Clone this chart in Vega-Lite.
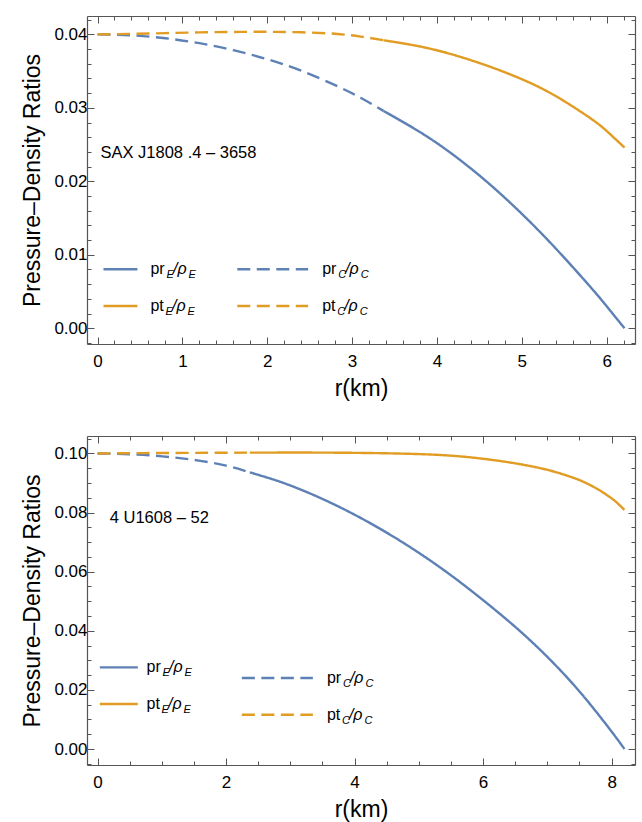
{
"$schema": "https://vega.github.io/schema/vega-lite/v6.json",
"padding": {"left": 21, "top": 15, "right": 7, "bottom": 5},
"spacing": 35,
"config": {"font": "Liberation Sans", "view": {"stroke": null},
 "axis": {"grid": false, "labelFontSize": 17, "labelColor": "#000", "titleFontSize": 23, "titleFontWeight": "normal", "titleColor": "#000", "domainColor": "#555", "tickColor": "#555", "domainWidth": 1.2, "tickWidth": 1, "labelFlush": false, "labelOverlap": false}},
"datasets": {
 "one": [{}],
 "sax": [
  {"r":0,"v":0.0400,"series":"pr","part":"C"},{"r":0.4,"v":0.03987,"series":"pr","part":"C"},{"r":0.8,"v":0.03947,"series":"pr","part":"C"},{"r":1.2,"v":0.03880,"series":"pr","part":"C"},{"r":1.6,"v":0.03785,"series":"pr","part":"C"},{"r":2.0,"v":0.03662,"series":"pr","part":"C"},{"r":2.4,"v":0.03505,"series":"pr","part":"C"},{"r":2.8,"v":0.03308,"series":"pr","part":"C"},{"r":3.1,"v":0.03138,"series":"pr","part":"C"},{"r":3.37,"v":0.02958,"series":"pr","part":"C"},
  {"r":3.37,"v":0.02958,"series":"pr","part":"E"},{"r":3.8,"v":0.02670,"series":"pr","part":"E"},{"r":4.2,"v":0.02354,"series":"pr","part":"E"},{"r":4.6,"v":0.01982,"series":"pr","part":"E"},{"r":5.0,"v":0.01558,"series":"pr","part":"E"},{"r":5.4,"v":0.01086,"series":"pr","part":"E"},{"r":5.8,"v":0.00574,"series":"pr","part":"E"},{"r":6.0,"v":0.00300,"series":"pr","part":"E"},{"r":6.21,"v":0.0,"series":"pr","part":"E"},
  {"r":0,"v":0.0400,"series":"pt","part":"C"},{"r":0.4,"v":0.04007,"series":"pt","part":"C"},{"r":0.8,"v":0.04017,"series":"pt","part":"C"},{"r":1.2,"v":0.04027,"series":"pt","part":"C"},{"r":1.6,"v":0.04033,"series":"pt","part":"C"},{"r":2.0,"v":0.04035,"series":"pt","part":"C"},{"r":2.4,"v":0.04028,"series":"pt","part":"C"},{"r":2.8,"v":0.04008,"series":"pt","part":"C"},{"r":3.1,"v":0.03970,"series":"pt","part":"C"},{"r":3.37,"v":0.03920,"series":"pt","part":"C"},
  {"r":3.37,"v":0.03920,"series":"pt","part":"E"},{"r":3.8,"v":0.03835,"series":"pt","part":"E"},{"r":4.2,"v":0.03720,"series":"pt","part":"E"},{"r":4.6,"v":0.03570,"series":"pt","part":"E"},{"r":5.0,"v":0.03390,"series":"pt","part":"E"},{"r":5.4,"v":0.03160,"series":"pt","part":"E"},{"r":5.8,"v":0.02865,"series":"pt","part":"E"},{"r":6.0,"v":0.02685,"series":"pt","part":"E"},{"r":6.21,"v":0.02460,"series":"pt","part":"E"}
 ],
 "u1608": [
  {"r":0,"v":0.1000,"series":"pr","part":"C"},{"r":0.4,"v":0.09982,"series":"pr","part":"C"},{"r":0.8,"v":0.09938,"series":"pr","part":"C"},{"r":1.2,"v":0.09860,"series":"pr","part":"C"},{"r":1.6,"v":0.09750,"series":"pr","part":"C"},{"r":2.0,"v":0.09590,"series":"pr","part":"C"},{"r":2.37,"v":0.09360,"series":"pr","part":"C"},
  {"r":2.37,"v":0.09360,"series":"pr","part":"E"},{"r":2.8,"v":0.09072,"series":"pr","part":"E"},{"r":3.2,"v":0.08744,"series":"pr","part":"E"},{"r":3.6,"v":0.08360,"series":"pr","part":"E"},{"r":4.0,"v":0.07928,"series":"pr","part":"E"},{"r":4.4,"v":0.07448,"series":"pr","part":"E"},{"r":4.8,"v":0.06920,"series":"pr","part":"E"},{"r":5.2,"v":0.06344,"series":"pr","part":"E"},{"r":5.6,"v":0.05716,"series":"pr","part":"E"},{"r":6.0,"v":0.05036,"series":"pr","part":"E"},{"r":6.4,"v":0.04320,"series":"pr","part":"E"},{"r":6.8,"v":0.03540,"series":"pr","part":"E"},{"r":7.2,"v":0.02670,"series":"pr","part":"E"},{"r":7.6,"v":0.01690,"series":"pr","part":"E"},{"r":8.0,"v":0.00590,"series":"pr","part":"E"},{"r":8.2,"v":0.0,"series":"pr","part":"E"},
  {"r":0,"v":0.1000,"series":"pt","part":"C"},{"r":0.6,"v":0.1001,"series":"pt","part":"C"},{"r":1.2,"v":0.10017,"series":"pt","part":"C"},{"r":1.8,"v":0.10023,"series":"pt","part":"C"},{"r":2.37,"v":0.10027,"series":"pt","part":"C"},
  {"r":2.37,"v":0.10027,"series":"pt","part":"E"},{"r":3.0,"v":0.10030,"series":"pt","part":"E"},{"r":3.5,"v":0.10028,"series":"pt","part":"E"},{"r":4.0,"v":0.10020,"series":"pt","part":"E"},{"r":4.5,"v":0.10005,"series":"pt","part":"E"},{"r":5.0,"v":0.09978,"series":"pt","part":"E"},{"r":5.5,"v":0.09925,"series":"pt","part":"E"},{"r":6.0,"v":0.09820,"series":"pt","part":"E"},{"r":6.5,"v":0.09665,"series":"pt","part":"E"},{"r":7.0,"v":0.09445,"series":"pt","part":"E"},{"r":7.4,"v":0.09180,"series":"pt","part":"E"},{"r":7.6,"v":0.09000,"series":"pt","part":"E"},{"r":7.8,"v":0.08770,"series":"pt","part":"E"},{"r":8.0,"v":0.08480,"series":"pt","part":"E"},{"r":8.1,"v":0.08300,"series":"pt","part":"E"},{"r":8.2,"v":0.08090,"series":"pt","part":"E"}
 ]
},
"vconcat": [
{
 "width": 548, "height": 328,
 "resolve": {"axis": {"x": "independent", "y": "independent"}},
 "layer": [
  {"data": {"name": "sax"}, "mark": {"type": "line", "strokeWidth": 2.4, "interpolate": "natural"},
   "encoding": {
    "x": {"field": "r", "type": "quantitative", "scale": {"domain": [-0.124, 6.334], "nice": false, "zero": false}, "axis": {"orient": "bottom", "values": [0,1,2,3,4,5,6], "tickSize": -7, "labelPadding": 16, "title": "r(km)", "titlePadding": 8}},
    "y": {"field": "v", "type": "quantitative", "scale": {"domain": [-0.00214, 0.0425], "nice": false, "zero": false}, "axis": {"orient": "left", "values": [0,0.01,0.02,0.03,0.04], "format": ".2f", "tickSize": -7, "labelPadding": 7, "title": "Pressure–Density Ratios", "titlePadding": 9}},
    "color": {"field": "series", "type": "nominal", "scale": {"domain": ["pr","pt"], "range": ["#5E81B5","#E19C24"]}, "legend": null},
    "strokeDash": {"field": "part", "type": "nominal", "scale": {"domain": ["E","C"], "range": [[1,0],[13,6.5]]}, "legend": null}
   }},
  {"data": {"name": "sax"}, "mark": {"type": "point", "opacity": 0},
   "encoding": {
    "x": {"field": "r", "type": "quantitative", "axis": {"orient": "top", "values": [0,1,2,3,4,5,6], "labels": false, "tickSize": -7, "title": null}},
    "y": {"field": "v", "type": "quantitative", "axis": {"orient": "right", "values": [0,0.01,0.02,0.03,0.04], "labels": false, "tickSize": -7, "title": null}}
   }},
  {"data": {"name": "sax"}, "mark": {"type": "point", "opacity": 0},
   "encoding": {
    "x": {"field": "r", "type": "quantitative", "axis": {"orient": "bottom", "values": [0.2,0.4,0.6,0.8,1.2,1.4,1.6,1.8,2.2,2.4,2.6,2.8,3.2,3.4,3.6,3.8,4.2,4.4,4.6,4.8,5.2,5.4,5.6,5.8,6.2], "labels": false, "domain": false, "tickSize": -4, "title": null}},
    "y": {"field": "v", "type": "quantitative", "axis": {"orient": "left", "values": [-0.002,0.002,0.004,0.006,0.008,0.012,0.014,0.016,0.018,0.022,0.024,0.026,0.028,0.032,0.034,0.036,0.038,0.042], "labels": false, "domain": false, "tickSize": -4, "title": null}}
   }},
  {"data": {"name": "sax"}, "mark": {"type": "point", "opacity": 0},
   "encoding": {
    "x": {"field": "r", "type": "quantitative", "axis": {"orient": "top", "values": [0.2,0.4,0.6,0.8,1.2,1.4,1.6,1.8,2.2,2.4,2.6,2.8,3.2,3.4,3.6,3.8,4.2,4.4,4.6,4.8,5.2,5.4,5.6,5.8,6.2], "labels": false, "domain": false, "tickSize": -4, "title": null}},
    "y": {"field": "v", "type": "quantitative", "axis": {"orient": "right", "values": [-0.002,0.002,0.004,0.006,0.008,0.012,0.014,0.016,0.018,0.022,0.024,0.026,0.028,0.032,0.034,0.036,0.038,0.042], "labels": false, "domain": false, "tickSize": -4, "title": null}}
   }},
  {"data": {"name": "one"}, "mark": {"type": "rule", "color": "#5E81B5", "strokeWidth": 2.4}, "encoding": {"x": {"datum": 0.07, "type": "quantitative", "axis": null}, "x2": {"datum": 0.47}, "y": {"datum": 0.00803, "type": "quantitative", "axis": null}}},
  {"data": {"name": "one"}, "mark": {"type": "rule", "color": "#E19C24", "strokeWidth": 2.4}, "encoding": {"x": {"datum": 0.07, "type": "quantitative", "axis": null}, "x2": {"datum": 0.47}, "y": {"datum": 0.00303, "type": "quantitative", "axis": null}}},
  {"data": {"name": "one"}, "mark": {"type": "rule", "color": "#5E81B5", "strokeWidth": 2.4, "strokeDash": [13,6.5]}, "encoding": {"x": {"datum": 1.647, "type": "quantitative", "axis": null}, "x2": {"datum": 2.482}, "y": {"datum": 0.00803, "type": "quantitative", "axis": null}}},
  {"data": {"name": "one"}, "mark": {"type": "rule", "color": "#E19C24", "strokeWidth": 2.4, "strokeDash": [13,6.5]}, "encoding": {"x": {"datum": 1.647, "type": "quantitative", "axis": null}, "x2": {"datum": 2.482}, "y": {"datum": 0.00303, "type": "quantitative", "axis": null}}},
  {"data": {"name": "one"}, "mark": {"type": "text", "text": "pr", "align": "left", "baseline": "alphabetic", "fontSize": 16, "dy": 5}, "encoding": {"x": {"datum": 0.624, "type": "quantitative", "axis": null}, "y": {"datum": 0.00803, "type": "quantitative", "axis": null}}},
  {"data": {"name": "one"}, "mark": {"type": "text", "text": "E", "align": "left", "baseline": "alphabetic", "fontSize": 11, "fontStyle": "italic", "dx": 16, "dy": 9}, "encoding": {"x": {"datum": 0.624, "type": "quantitative", "axis": null}, "y": {"datum": 0.00803, "type": "quantitative", "axis": null}}},
  {"data": {"name": "one"}, "mark": {"type": "text", "text": "/ρ", "align": "left", "baseline": "alphabetic", "fontSize": 16, "fontStyle": "italic", "dx": 22.5, "dy": 5}, "encoding": {"x": {"datum": 0.624, "type": "quantitative", "axis": null}, "y": {"datum": 0.00803, "type": "quantitative", "axis": null}}},
  {"data": {"name": "one"}, "mark": {"type": "text", "text": "E", "align": "left", "baseline": "alphabetic", "fontSize": 11, "fontStyle": "italic", "dx": 38, "dy": 9}, "encoding": {"x": {"datum": 0.624, "type": "quantitative", "axis": null}, "y": {"datum": 0.00803, "type": "quantitative", "axis": null}}},
  {"data": {"name": "one"}, "mark": {"type": "text", "text": "pt", "align": "left", "baseline": "alphabetic", "fontSize": 16, "dy": 5}, "encoding": {"x": {"datum": 0.624, "type": "quantitative", "axis": null}, "y": {"datum": 0.00303, "type": "quantitative", "axis": null}}},
  {"data": {"name": "one"}, "mark": {"type": "text", "text": "E", "align": "left", "baseline": "alphabetic", "fontSize": 11, "fontStyle": "italic", "dx": 15, "dy": 9}, "encoding": {"x": {"datum": 0.624, "type": "quantitative", "axis": null}, "y": {"datum": 0.00303, "type": "quantitative", "axis": null}}},
  {"data": {"name": "one"}, "mark": {"type": "text", "text": "/ρ", "align": "left", "baseline": "alphabetic", "fontSize": 16, "fontStyle": "italic", "dx": 21.5, "dy": 5}, "encoding": {"x": {"datum": 0.624, "type": "quantitative", "axis": null}, "y": {"datum": 0.00303, "type": "quantitative", "axis": null}}},
  {"data": {"name": "one"}, "mark": {"type": "text", "text": "E", "align": "left", "baseline": "alphabetic", "fontSize": 11, "fontStyle": "italic", "dx": 37, "dy": 9}, "encoding": {"x": {"datum": 0.624, "type": "quantitative", "axis": null}, "y": {"datum": 0.00303, "type": "quantitative", "axis": null}}},
  {"data": {"name": "one"}, "mark": {"type": "text", "text": "pr", "align": "left", "baseline": "alphabetic", "fontSize": 16, "dy": 5}, "encoding": {"x": {"datum": 2.647, "type": "quantitative", "axis": null}, "y": {"datum": 0.00803, "type": "quantitative", "axis": null}}},
  {"data": {"name": "one"}, "mark": {"type": "text", "text": "C", "align": "left", "baseline": "alphabetic", "fontSize": 11, "fontStyle": "italic", "dx": 16, "dy": 9}, "encoding": {"x": {"datum": 2.647, "type": "quantitative", "axis": null}, "y": {"datum": 0.00803, "type": "quantitative", "axis": null}}},
  {"data": {"name": "one"}, "mark": {"type": "text", "text": "/ρ", "align": "left", "baseline": "alphabetic", "fontSize": 16, "fontStyle": "italic", "dx": 23, "dy": 5}, "encoding": {"x": {"datum": 2.647, "type": "quantitative", "axis": null}, "y": {"datum": 0.00803, "type": "quantitative", "axis": null}}},
  {"data": {"name": "one"}, "mark": {"type": "text", "text": "C", "align": "left", "baseline": "alphabetic", "fontSize": 11, "fontStyle": "italic", "dx": 38.5, "dy": 9}, "encoding": {"x": {"datum": 2.647, "type": "quantitative", "axis": null}, "y": {"datum": 0.00803, "type": "quantitative", "axis": null}}},
  {"data": {"name": "one"}, "mark": {"type": "text", "text": "pt", "align": "left", "baseline": "alphabetic", "fontSize": 16, "dy": 5}, "encoding": {"x": {"datum": 2.647, "type": "quantitative", "axis": null}, "y": {"datum": 0.00303, "type": "quantitative", "axis": null}}},
  {"data": {"name": "one"}, "mark": {"type": "text", "text": "C", "align": "left", "baseline": "alphabetic", "fontSize": 11, "fontStyle": "italic", "dx": 15, "dy": 9}, "encoding": {"x": {"datum": 2.647, "type": "quantitative", "axis": null}, "y": {"datum": 0.00303, "type": "quantitative", "axis": null}}},
  {"data": {"name": "one"}, "mark": {"type": "text", "text": "/ρ", "align": "left", "baseline": "alphabetic", "fontSize": 16, "fontStyle": "italic", "dx": 22, "dy": 5}, "encoding": {"x": {"datum": 2.647, "type": "quantitative", "axis": null}, "y": {"datum": 0.00303, "type": "quantitative", "axis": null}}},
  {"data": {"name": "one"}, "mark": {"type": "text", "text": "C", "align": "left", "baseline": "alphabetic", "fontSize": 11, "fontStyle": "italic", "dx": 37.5, "dy": 9}, "encoding": {"x": {"datum": 2.647, "type": "quantitative", "axis": null}, "y": {"datum": 0.00303, "type": "quantitative", "axis": null}}},
  {"data": {"name": "one"}, "mark": {"type": "text", "text": "SAX J1808 .4 – 3658", "align": "left", "baseline": "middle", "fontSize": 16.5}, "encoding": {"x": {"datum": 0.035, "type": "quantitative", "axis": null}, "y": {"datum": 0.0239, "type": "quantitative", "axis": null}}}
 ]
},
{
 "width": 548, "height": 329,
 "resolve": {"axis": {"x": "independent", "y": "independent"}},
 "layer": [
  {"data": {"name": "u1608"}, "mark": {"type": "line", "strokeWidth": 2.4, "interpolate": "natural"},
   "encoding": {
    "x": {"field": "r", "type": "quantitative", "scale": {"domain": [-0.164, 8.364], "nice": false, "zero": false}, "axis": {"orient": "bottom", "values": [0,2,4,6,8], "tickSize": -7, "labelPadding": 16, "title": "r(km)", "titlePadding": 8}},
    "y": {"field": "v", "type": "quantitative", "scale": {"domain": [-0.0054, 0.1059], "nice": false, "zero": false}, "axis": {"orient": "left", "values": [0,0.02,0.04,0.06,0.08,0.1], "format": ".2f", "tickSize": -7, "labelPadding": 7, "title": "Pressure–Density Ratios", "titlePadding": 9}},
    "color": {"field": "series", "type": "nominal", "scale": {"domain": ["pr","pt"], "range": ["#5E81B5","#E19C24"]}, "legend": null},
    "strokeDash": {"field": "part", "type": "nominal", "scale": {"domain": ["E","C"], "range": [[1,0],[13,6.5]]}, "legend": null}
   }},
  {"data": {"name": "u1608"}, "mark": {"type": "point", "opacity": 0},
   "encoding": {
    "x": {"field": "r", "type": "quantitative", "axis": {"orient": "top", "values": [0,2,4,6,8], "labels": false, "tickSize": -7, "title": null}},
    "y": {"field": "v", "type": "quantitative", "axis": {"orient": "right", "values": [0,0.02,0.04,0.06,0.08,0.1], "labels": false, "tickSize": -7, "title": null}}
   }},
  {"data": {"name": "u1608"}, "mark": {"type": "point", "opacity": 0},
   "encoding": {
    "x": {"field": "r", "type": "quantitative", "axis": {"orient": "bottom", "values": [0.5,1,1.5,2.5,3,3.5,4.5,5,5.5,6.5,7,7.5], "labels": false, "domain": false, "tickSize": -4, "title": null}},
    "y": {"field": "v", "type": "quantitative", "axis": {"orient": "left", "values": [-0.005,0.005,0.01,0.015,0.025,0.03,0.035,0.045,0.05,0.055,0.065,0.07,0.075,0.085,0.09,0.095,0.105], "labels": false, "domain": false, "tickSize": -4, "title": null}}
   }},
  {"data": {"name": "u1608"}, "mark": {"type": "point", "opacity": 0},
   "encoding": {
    "x": {"field": "r", "type": "quantitative", "axis": {"orient": "top", "values": [0.5,1,1.5,2.5,3,3.5,4.5,5,5.5,6.5,7,7.5], "labels": false, "domain": false, "tickSize": -4, "title": null}},
    "y": {"field": "v", "type": "quantitative", "axis": {"orient": "right", "values": [-0.005,0.005,0.01,0.015,0.025,0.03,0.035,0.045,0.05,0.055,0.065,0.07,0.075,0.085,0.09,0.095,0.105], "labels": false, "domain": false, "tickSize": -4, "title": null}}
   }},
  {"data": {"name": "one"}, "mark": {"type": "rule", "color": "#5E81B5", "strokeWidth": 2.4}, "encoding": {"x": {"datum": 0.036, "type": "quantitative", "axis": null}, "x2": {"datum": 0.627}, "y": {"datum": 0.02763, "type": "quantitative", "axis": null}}},
  {"data": {"name": "one"}, "mark": {"type": "rule", "color": "#E19C24", "strokeWidth": 2.4}, "encoding": {"x": {"datum": 0.036, "type": "quantitative", "axis": null}, "x2": {"datum": 0.627}, "y": {"datum": 0.01522, "type": "quantitative", "axis": null}}},
  {"data": {"name": "one"}, "mark": {"type": "rule", "color": "#5E81B5", "strokeWidth": 2.4, "strokeDash": [13,6.5]}, "encoding": {"x": {"datum": 2.246, "type": "quantitative", "axis": null}, "x2": {"datum": 3.351}, "y": {"datum": 0.02401, "type": "quantitative", "axis": null}}},
  {"data": {"name": "one"}, "mark": {"type": "rule", "color": "#E19C24", "strokeWidth": 2.4, "strokeDash": [13,6.5]}, "encoding": {"x": {"datum": 2.246, "type": "quantitative", "axis": null}, "x2": {"datum": 3.351}, "y": {"datum": 0.0116, "type": "quantitative", "axis": null}}},
  {"data": {"name": "one"}, "mark": {"type": "text", "text": "pr", "align": "left", "baseline": "alphabetic", "fontSize": 16, "dy": 5}, "encoding": {"x": {"datum": 0.763, "type": "quantitative", "axis": null}, "y": {"datum": 0.02763, "type": "quantitative", "axis": null}}},
  {"data": {"name": "one"}, "mark": {"type": "text", "text": "E", "align": "left", "baseline": "alphabetic", "fontSize": 11, "fontStyle": "italic", "dx": 16, "dy": 9}, "encoding": {"x": {"datum": 0.763, "type": "quantitative", "axis": null}, "y": {"datum": 0.02763, "type": "quantitative", "axis": null}}},
  {"data": {"name": "one"}, "mark": {"type": "text", "text": "/ρ", "align": "left", "baseline": "alphabetic", "fontSize": 16, "fontStyle": "italic", "dx": 22.5, "dy": 5}, "encoding": {"x": {"datum": 0.763, "type": "quantitative", "axis": null}, "y": {"datum": 0.02763, "type": "quantitative", "axis": null}}},
  {"data": {"name": "one"}, "mark": {"type": "text", "text": "E", "align": "left", "baseline": "alphabetic", "fontSize": 11, "fontStyle": "italic", "dx": 38, "dy": 9}, "encoding": {"x": {"datum": 0.763, "type": "quantitative", "axis": null}, "y": {"datum": 0.02763, "type": "quantitative", "axis": null}}},
  {"data": {"name": "one"}, "mark": {"type": "text", "text": "pt", "align": "left", "baseline": "alphabetic", "fontSize": 16, "dy": 5}, "encoding": {"x": {"datum": 0.763, "type": "quantitative", "axis": null}, "y": {"datum": 0.01522, "type": "quantitative", "axis": null}}},
  {"data": {"name": "one"}, "mark": {"type": "text", "text": "E", "align": "left", "baseline": "alphabetic", "fontSize": 11, "fontStyle": "italic", "dx": 15, "dy": 9}, "encoding": {"x": {"datum": 0.763, "type": "quantitative", "axis": null}, "y": {"datum": 0.01522, "type": "quantitative", "axis": null}}},
  {"data": {"name": "one"}, "mark": {"type": "text", "text": "/ρ", "align": "left", "baseline": "alphabetic", "fontSize": 16, "fontStyle": "italic", "dx": 21.5, "dy": 5}, "encoding": {"x": {"datum": 0.763, "type": "quantitative", "axis": null}, "y": {"datum": 0.01522, "type": "quantitative", "axis": null}}},
  {"data": {"name": "one"}, "mark": {"type": "text", "text": "E", "align": "left", "baseline": "alphabetic", "fontSize": 11, "fontStyle": "italic", "dx": 37, "dy": 9}, "encoding": {"x": {"datum": 0.763, "type": "quantitative", "axis": null}, "y": {"datum": 0.01522, "type": "quantitative", "axis": null}}},
  {"data": {"name": "one"}, "mark": {"type": "text", "text": "pr", "align": "left", "baseline": "alphabetic", "fontSize": 16, "dy": 5}, "encoding": {"x": {"datum": 3.569, "type": "quantitative", "axis": null}, "y": {"datum": 0.02401, "type": "quantitative", "axis": null}}},
  {"data": {"name": "one"}, "mark": {"type": "text", "text": "C", "align": "left", "baseline": "alphabetic", "fontSize": 11, "fontStyle": "italic", "dx": 16, "dy": 9}, "encoding": {"x": {"datum": 3.569, "type": "quantitative", "axis": null}, "y": {"datum": 0.02401, "type": "quantitative", "axis": null}}},
  {"data": {"name": "one"}, "mark": {"type": "text", "text": "/ρ", "align": "left", "baseline": "alphabetic", "fontSize": 16, "fontStyle": "italic", "dx": 23, "dy": 5}, "encoding": {"x": {"datum": 3.569, "type": "quantitative", "axis": null}, "y": {"datum": 0.02401, "type": "quantitative", "axis": null}}},
  {"data": {"name": "one"}, "mark": {"type": "text", "text": "C", "align": "left", "baseline": "alphabetic", "fontSize": 11, "fontStyle": "italic", "dx": 38.5, "dy": 9}, "encoding": {"x": {"datum": 3.569, "type": "quantitative", "axis": null}, "y": {"datum": 0.02401, "type": "quantitative", "axis": null}}},
  {"data": {"name": "one"}, "mark": {"type": "text", "text": "pt", "align": "left", "baseline": "alphabetic", "fontSize": 16, "dy": 5}, "encoding": {"x": {"datum": 3.569, "type": "quantitative", "axis": null}, "y": {"datum": 0.0116, "type": "quantitative", "axis": null}}},
  {"data": {"name": "one"}, "mark": {"type": "text", "text": "C", "align": "left", "baseline": "alphabetic", "fontSize": 11, "fontStyle": "italic", "dx": 15, "dy": 9}, "encoding": {"x": {"datum": 3.569, "type": "quantitative", "axis": null}, "y": {"datum": 0.0116, "type": "quantitative", "axis": null}}},
  {"data": {"name": "one"}, "mark": {"type": "text", "text": "/ρ", "align": "left", "baseline": "alphabetic", "fontSize": 16, "fontStyle": "italic", "dx": 22, "dy": 5}, "encoding": {"x": {"datum": 3.569, "type": "quantitative", "axis": null}, "y": {"datum": 0.0116, "type": "quantitative", "axis": null}}},
  {"data": {"name": "one"}, "mark": {"type": "text", "text": "C", "align": "left", "baseline": "alphabetic", "fontSize": 11, "fontStyle": "italic", "dx": 37.5, "dy": 9}, "encoding": {"x": {"datum": 3.569, "type": "quantitative", "axis": null}, "y": {"datum": 0.0116, "type": "quantitative", "axis": null}}},
  {"data": {"name": "one"}, "mark": {"type": "text", "text": "4 U1608 – 52", "align": "left", "baseline": "middle", "fontSize": 16.5}, "encoding": {"x": {"datum": 0.19, "type": "quantitative", "axis": null}, "y": {"datum": 0.0781, "type": "quantitative", "axis": null}}}
 ]
}
]
}
